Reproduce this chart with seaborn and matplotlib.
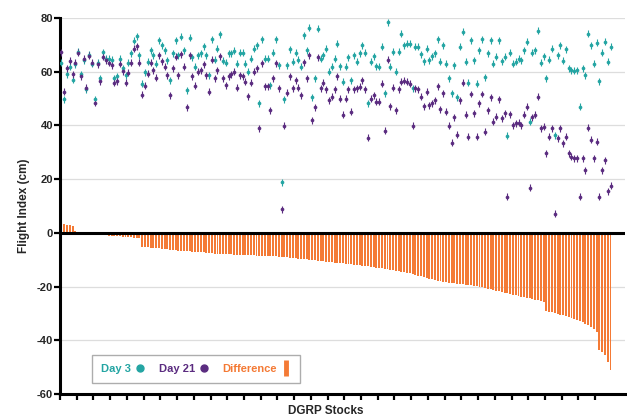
import numpy as np
import seaborn as sns
import matplotlib.pyplot as plt
from matplotlib.lines import Line2D

# stocks ordered by Day 21 - Day 3 difference
difference = [
    3.5, 3.3, 3.1, 2.9, 2.6, 0.8, 0.3, -0.1, -0.2, -0.3,
    -0.4, -0.5, -0.6, -0.6, -0.7, -0.8, -0.9, -1.0, -1.0, -1.1,
    -1.2, -1.3, -1.4, -1.5, -1.6, -1.7, -1.8, -1.9, -2.0,
    -5.2, -5.3, -5.4, -5.5, -5.6, -5.7, -5.8, -5.9, -6.0, -6.1, -6.2, -6.3, -6.4,
    -6.6, -6.7, -6.7, -6.8, -6.9, -7.0, -7.0, -7.1, -7.2, -7.3, -7.4, -7.5, -7.6, -7.7, -7.7,
    -7.8, -7.9, -7.9, -8.0, -8.0, -8.1, -8.1, -8.2, -8.2, -8.3, -8.3, -8.4, -8.4, -8.5, -8.5,
    -8.6, -8.6, -8.7, -8.7, -8.8, -8.8, -8.9, -8.9,
    -9.0, -9.1, -9.2, -9.3, -9.5, -9.6, -9.7, -9.8, -9.9, -10.0, -10.1, -10.2, -10.4, -10.5,
    -10.6, -10.7, -10.9,
    -11.0, -11.1, -11.2, -11.3, -11.4, -11.5, -11.6, -11.7, -11.9, -12.0, -12.1, -12.2, -12.4,
    -12.5, -12.6, -12.8, -12.9, -13.0, -13.2, -13.3, -13.5, -13.7, -13.9, -14.1,
    -14.3, -14.5, -14.7, -14.9, -15.1, -15.4, -15.6, -15.9, -16.2,
    -16.5, -16.7, -17.0, -17.3, -17.6, -17.9, -18.1,
    -18.3, -18.4, -18.6, -18.7, -18.8, -19.0, -19.1, -19.2, -19.4, -19.5, -19.6, -19.8, -19.9,
    -20.0, -20.3, -20.5, -20.8, -21.0, -21.3, -21.5, -21.8, -22.0, -22.3, -22.5, -22.8,
    -23.0, -23.2, -23.5, -23.7, -23.9, -24.1, -24.4, -24.6, -24.9, -25.1, -25.5, -25.8,
    -29.0, -29.3, -29.6, -29.8, -30.1, -30.4, -30.6, -30.9, -31.3, -31.6, -32.0, -32.4,
    -32.8, -33.3, -33.8, -34.4, -35.0, -35.8, -36.8,
    -43.5, -44.5, -45.5, -48.0, -51.2,
]

day3 = [
    63.4, 49.8, 59.0, 61.8, 57.1, 62.8, 67.4, 59.1, 64.3, 53.4,
    66.4, 63.0, 49.7, 63.3, 57.5, 67.2, 64.9, 64.9, 64.5, 57.5,
    58.3, 64.9, 61.2, 58.7, 63.4, 66.8, 71.6, 73.2, 66.2, 55.6,
    59.8, 63.7, 68.0, 66.2, 63.0, 71.7, 69.9, 68.0, 64.3, 56.9,
    66.8, 71.7, 66.2, 73.0, 68.0, 53.1, 72.7, 65.3, 61.8, 66.2,
    66.8, 69.5, 66.2, 58.7, 72.0, 64.5, 68.6, 74.0, 64.0, 63.3,
    66.8, 66.8, 67.8, 63.0, 67.1, 67.1, 63.0, 60.0, 64.9, 68.6,
    69.9, 48.2, 72.0, 64.9, 64.9, 55.0, 67.0, 72.0, 62.4, 18.8,
    49.7, 62.4, 68.3, 63.7, 67.0, 64.5, 61.8, 73.6, 68.0, 76.4,
    50.4, 57.5, 76.0, 64.9, 66.2, 68.6, 60.0, 61.8, 64.9, 70.5,
    62.1, 56.2, 61.8, 65.3, 56.9, 66.2, 63.7, 66.8, 69.9, 67.0,
    48.2, 63.7, 65.8, 62.1, 61.8, 69.3, 51.9, 78.5, 61.8, 67.4,
    60.0, 67.4, 74.2, 69.9, 70.5, 70.5, 53.8, 69.3, 69.3, 66.5,
    63.9, 68.6, 64.3, 65.8, 66.8, 72.0, 63.7, 69.9, 63.0, 57.5,
    51.9, 62.4, 50.5, 69.3, 74.8, 63.7, 55.9, 71.7, 64.3, 55.6,
    68.0, 72.0, 57.9, 66.8, 71.7, 63.0, 65.5, 71.7, 63.9, 65.5,
    36.2, 67.0, 63.0, 63.7, 64.9, 64.3, 68.0, 71.1, 41.4, 67.0,
    68.0, 75.2, 63.3, 65.8, 57.5, 64.5, 68.6, 36.4, 66.2, 69.9,
    64.0, 68.3, 61.2, 60.6, 60.3, 60.6, 47.0, 61.2, 58.7, 74.2,
    69.9, 63.0, 70.7, 56.5, 67.0, 71.1, 63.7, 69.3,
]

day21 = [
    67.2, 52.5, 61.2, 64.0, 59.1, 63.4, 67.0, 58.4, 64.9, 54.1,
    65.9, 63.4, 48.4, 62.7, 56.5, 65.6, 64.3, 63.4, 62.4, 55.9,
    56.5, 63.0, 60.2, 55.9, 59.7, 63.3, 68.6, 69.5, 63.3, 51.5,
    54.8, 59.3, 63.3, 60.6, 57.7, 66.2, 63.9, 61.8, 58.7, 51.3,
    61.2, 65.5, 58.7, 66.5, 61.8, 46.7, 66.2, 58.3, 54.8, 60.0,
    60.6, 62.8, 58.7, 52.5, 64.5, 57.5, 60.6, 65.8, 57.5, 55.0,
    58.3, 59.1, 60.0, 54.1, 58.7, 58.3, 56.2, 50.9, 55.9, 60.0,
    61.2, 38.9, 63.1, 54.6, 54.6, 45.7, 57.5, 63.1, 53.8, 8.8,
    39.9, 52.2, 58.3, 53.8, 56.9, 54.1, 51.3, 63.5, 57.5, 66.2,
    42.0, 46.7, 65.3, 53.8, 55.9, 53.4, 49.4, 50.7, 53.4, 58.3,
    50.0, 43.9, 50.0, 53.4, 45.1, 53.4, 53.8, 54.4, 56.9, 53.4,
    35.5, 50.0, 51.3, 48.8, 48.8, 55.6, 38.0, 64.5, 47.2, 54.1,
    45.7, 53.4, 56.2, 56.6, 56.2, 55.6, 39.8, 53.8, 53.5, 50.7,
    47.2, 52.5, 47.6, 48.2, 49.4, 54.6, 46.0, 51.9, 45.1, 39.8,
    33.6, 43.0, 36.5, 49.4, 55.9, 43.9, 35.8, 51.7, 44.5, 35.8,
    48.2, 51.7, 37.7, 45.7, 50.4, 41.4, 43.2, 49.7, 42.6, 44.5,
    13.5, 44.2, 40.1, 40.8, 41.0, 40.1, 43.9, 47.0, 16.8, 43.0,
    43.9, 50.7, 38.9, 39.5, 29.6, 35.8, 38.9, 7.1, 35.2, 38.9,
    33.3, 35.8, 29.6, 28.4, 27.7, 27.7, 13.5, 27.7, 23.4, 39.1,
    34.6, 27.7, 33.9, 13.5, 23.4, 27.1, 15.4, 17.5,
]

stock = np.arange(len(difference))

TEAL = "#24A5A3"
PURPLE = "#5B2C80"
ORANGE = "#F47A35"

sns.set_style("white")
plt.rcParams["font.family"] = ["Liberation Sans", "DejaVu Sans"]
plt.rcParams["font.weight"] = "bold"

fig = plt.figure(figsize=(6.27, 4.18), dpi=100)
ax = fig.add_axes([60 / 627, 24 / 418, 565 / 627, 376 / 418])

sns.barplot(x=stock, y=difference, color=ORANGE, saturation=1, width=0.7,
            linewidth=0, errorbar=None, ax=ax, zorder=2)

ax.errorbar(stock, day3, yerr=1.3, fmt="none", ecolor=TEAL, elinewidth=0.8, zorder=3)
ax.errorbar(stock, day21, yerr=1.3, fmt="none", ecolor=PURPLE, elinewidth=0.8, zorder=3)
sns.scatterplot(x=stock, y=day3, color=TEAL, s=7, linewidth=0, ax=ax, zorder=4)
sns.scatterplot(x=stock, y=day21, color=PURPLE, s=7, linewidth=0, ax=ax, zorder=4)

ax.axhline(0, color="black", lw=2.2, zorder=5)

ax.set_xlim(-0.5, 202.2)
ax.set_ylim(-60, 80)
ax.set_yticks(range(-60, 81, 20))
ax.set_yticklabels([str(v) for v in range(-60, 81, 20)], fontsize=8, fontweight="bold")
ax.set_xticks(np.arange(-0.5, 193, 6))
ax.set_xticklabels([])
ax.tick_params(axis="both", direction="out", length=4, width=1.6, color="black",
               bottom=True, left=True, pad=1)

ax.yaxis.grid(True, color="#dddddd", lw=0.9)
ax.xaxis.grid(False)
ax.set_axisbelow(True)

for side in ["top", "right"]:
    ax.spines[side].set_visible(False)
for side in ["left", "bottom"]:
    ax.spines[side].set_linewidth(2.2)
    ax.spines[side].set_color("black")

ax.set_ylabel("Flight Index (cm)", fontsize=8.5, fontweight="bold", labelpad=5)
ax.set_xlabel("DGRP Stocks", fontsize=8.5, fontweight="bold")
ax.xaxis.set_label_coords(0.471, -0.03)

handles = [
    Line2D([], [], ls="none", marker="o", markersize=5, color=TEAL),
    Line2D([], [], ls="none", marker="o", markersize=5, color=PURPLE),
    Line2D([], [], ls="none", marker="|", markersize=12, markeredgewidth=3.5, color=ORANGE),
]
leg = ax.legend(handles, ["Day 3", "Day 21", "Difference"], loc="lower left",
                bbox_to_anchor=(0.057, 0.029), ncol=3, markerfirst=False,
                frameon=True, fancybox=False, edgecolor="#999999",
                labelcolor=[TEAL, PURPLE, ORANGE], prop={"weight": "bold", "size": 8},
                handlelength=1.0, handletextpad=0.3, columnspacing=1.2,
                borderpad=0.8, borderaxespad=0)
leg.get_frame().set_linewidth(1.0)

fig.savefig("out.png", dpi=100)
